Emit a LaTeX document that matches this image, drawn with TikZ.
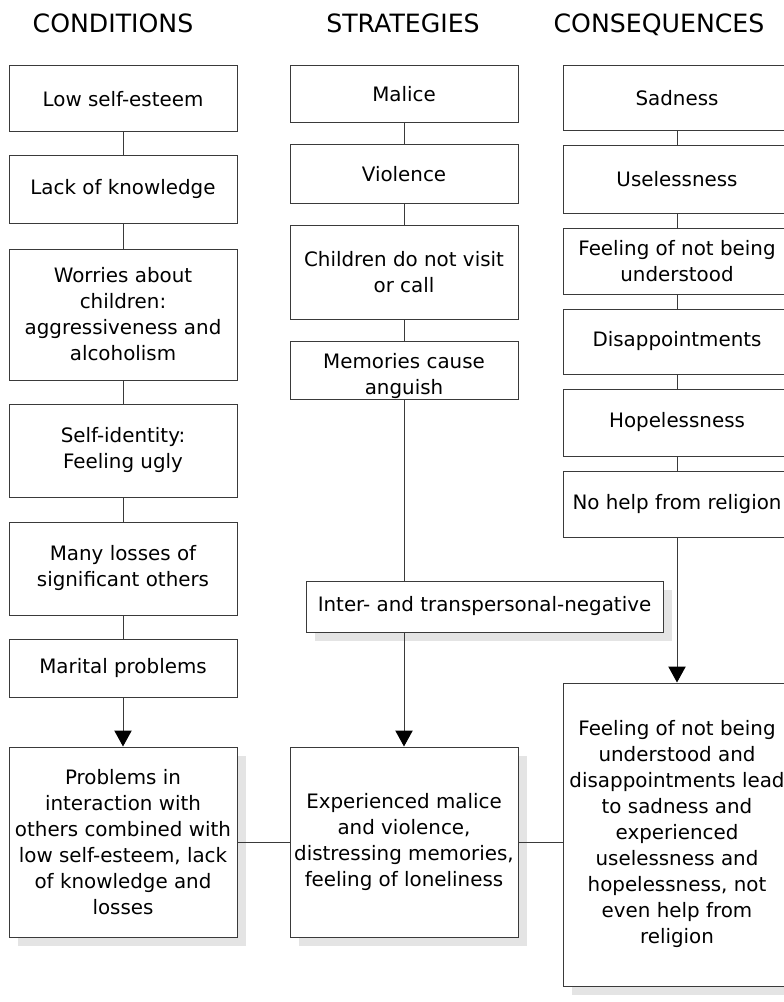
\documentclass[tikz,border=0pt]{standalone}
\usepackage{fontspec}
\setmainfont{DejaVu Sans}
\usetikzlibrary{arrows.meta,shadows}
\definecolor{edge}{HTML}{3A3A3A}
\definecolor{shade}{HTML}{E4E4E4}
\tikzset{
  head/.style={font=\fontsize{18.9}{22}\selectfont, inner sep=0pt, anchor=base},
  txt/.style={font=\fontsize{14.9}{19.5}\selectfont, align=center, inner sep=0pt},
  box/.style={txt, draw=edge, line width=0.75pt, fill=white, minimum width=171pt},
  hgt/.style={minimum height=#1*0.75pt},
  wid/.style={minimum width=#1*0.75pt},
  shade box/.style={drop shadow={shadow xshift=6.75pt, shadow yshift=-6.75pt, fill=shade, opacity=1}},
  link/.style={draw=edge, line width=0.75pt},
  arr/.style={link, -{Triangle[width=13pt,length=12pt,color=black]}}
}
\begin{document}
\begin{tikzpicture}[x=0.75pt,y=-0.75pt]
\useasboundingbox (0,0) rectangle (784,1002);

% column headings
\node[head] (hc) at (113,33) {CONDITIONS};
\node[head] (hs) at (403,33) {STRATEGIES};
\node[head] (hq) at (659,33) {CONSEQUENCES};

% conditions
\node[box, hgt=66]  (c1) at (123,99)    {Low self-esteem};
\node[box, hgt=67]  (c2) at (123,189.5) {Lack of knowledge};
\node[box, hgt=131] (c3) at (123,314.5) {Worries about\\children:\\aggressiveness and\\alcoholism};
\node[box, hgt=93]  (c4) at (123,450.5) {Self-identity:\\Feeling ugly};
\node[box, hgt=93]  (c5) at (123,568.5) {Many losses of\\significant others};
\node[box, hgt=58]  (c6) at (123,668)   {Marital problems};
\node[box, hgt=190, shade box] (c7) at (123,842)
  {Problems in\\interaction with\\others combined with\\low self-esteem, lack\\of knowledge and\\losses};

% strategies
\node[box, hgt=57] (s1) at (404,94.5) {Malice};
\node[box, hgt=58] (s2) at (404,174)  {Violence};
\node[box, hgt=94] (s3) at (404,272)  {Children do not visit\\or call};
\node[box, hgt=58] (s4) at (404,370)  {};
\node[txt] (s4t) at (404,376) {Memories cause\\anguish};
\node[box, hgt=51, wid=357, shade box] (s5) at (484.5,606.5) {Inter- and transpersonal-negative};
\node[box, hgt=190, shade box] (s6) at (404,842)
  {Experienced malice\\and violence,\\distressing memories,\\feeling of loneliness};

% consequences
\node[box, hgt=65] (q1) at (677,98.5)  {Sadness};
\node[box, hgt=67] (q2) at (677,179.5) {Uselessness};
\node[box, hgt=66] (q3) at (677,261)   {Feeling of not being\\understood};
\node[box, hgt=65] (q4) at (677,341.5) {Disappointments};
\node[box, hgt=67] (q5) at (677,422.5) {Hopelessness};
\node[box, hgt=66] (q6) at (677,504)   {No help from religion};
\node[box, hgt=303, shade box] (q7) at (677,834.5)
  {Feeling of not being\\understood and\\disappointments lead\\to sadness and\\experienced\\uselessness and\\hopelessness, not\\even help from\\religion};

% connectors
\foreach \a/\b in {c1/c2,c2/c3,c3/c4,c4/c5,c5/c6,s1/s2,s2/s3,s3/s4,q1/q2,q2/q3,q3/q4,q4/q5,q5/q6}
  \draw[link] (\a.south) -- (\b.north);
\draw[arr] (c6.south) -- (c7.north);
\draw[link] (s4.south) -- (s4.south |- s5.north);
\draw[arr] (s6.north |- s5.south) -- (s6.north);
\draw[arr] (q6.south) -- (q7.north);
\coordinate (row) at (0,842);
\draw[link] (c7.east |- row) -- (s6.west |- row);
\draw[link] (s6.east |- row) -- (q7.west |- row);
\end{tikzpicture}
\end{document}
